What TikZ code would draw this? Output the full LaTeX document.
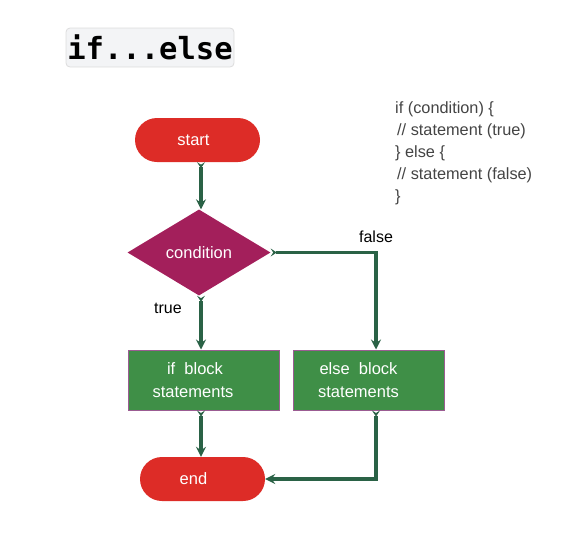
\documentclass[tikz,border=0pt]{standalone}
\usepackage{fontspec}
\setmainfont{Liberation Sans}
\newfontfamily\titlemono{DejaVu Sans Mono}
\usetikzlibrary{shapes.geometric,arrows.meta}
\definecolor{redc}{HTML}{DD2C27}
\definecolor{magc}{HTML}{A31F5B}
\definecolor{greenc}{HTML}{3F8F47}
\definecolor{bordc}{HTML}{9B5C92}
\definecolor{flowc}{HTML}{2A6246}
\definecolor{codec}{HTML}{444444}
\definecolor{titlebg}{HTML}{F3F4F6}
\definecolor{titlebd}{HTML}{DCDCDC}
\tikzset{
  x=1pt, y=1pt,
  pill/.style={fill=redc, draw=none, rounded corners=22pt, minimum width=125pt, minimum height=44pt, inner sep=0pt, text=white, font=\fontsize{16.5}{19}\selectfont},
  decision/.style={diamond, fill=magc, draw=none, minimum width=143pt, minimum height=86pt, inner sep=0pt, text=white, font=\fontsize{16.5}{19}\selectfont},
  block/.style={rectangle, fill=greenc, draw=bordc, line width=1pt, minimum width=151pt, minimum height=60pt, inner sep=0pt, text=white, align=center, font=\fontsize{16.5}{23}\selectfont},
  flow/.style={draw=flowc, line width=3.6pt, {Stealth[reversed,length=6pt,width=8pt,inset=2.5pt]}-{Stealth[length=10pt,width=10pt,inset=3.5pt]}},
  lbl/.style={text=black, font=\fontsize{16}{19}\selectfont, inner sep=0pt},
  code/.style={text=codec, font=\fontsize{16.3}{18}\selectfont, inner sep=0pt, anchor=base west},
}
\begin{document}
\begin{tikzpicture}
\useasboundingbox (0,0) rectangle (580,-557);
% title
\node[fill=titlebg, draw=titlebd, line width=0.8pt, rounded corners=4pt, minimum width=168pt, minimum height=39pt, inner sep=0pt] (title) at (150,-47.5) {\titlemono\bfseries\fontsize{30.5}{33}\selectfont if...else};
% code
\node[code] (c1) at (395,-113.5) {if (condition) \{};
\node[code] (c2) at (397,-135.5) {// statement (true)};
\node[code] (c3) at (395,-157) {\} else \{};
\node[code] (c4) at (397,-179) {// statement (false)};
\node[code] (c5) at (395,-201) {\}};
% columns
\coordinate (colA) at (201,0);
\coordinate (colB) at (376,0);
% nodes
\node[pill] (start) at (197.5,-140) {start\hspace*{8pt}};
\node[decision] (cond) at (199,-252.5) {condition};
\node[block] (ifb) at (204,-380) {\hspace*{-18pt}if\ \ block\\ \hspace*{-22pt}statements};
\node[block] (elseb) at (368.5,-380) {\hspace*{-20pt}else\ \ block\\ \hspace*{-20pt}statements};
\node[pill] (endn) at (202.5,-479) {end\hspace*{18pt}};
% labels
\node[lbl] (lfalse) at (376,-237) {false};
\node[lbl] (ltrue) at (168,-308) {true};
% connectors
\draw[flow] (start.south -| colA) -- (cond.north -| colA);
\draw[flow] (cond.south -| colA) -- (ifb.north -| colA);
\draw[flow] (cond.east) -| (elseb.north -| colB);
\draw[flow] (ifb.south -| colA) -- (endn.north -| colA);
\draw[flow] (elseb.south -| colB) |- (endn.east);
\end{tikzpicture}
\end{document}
